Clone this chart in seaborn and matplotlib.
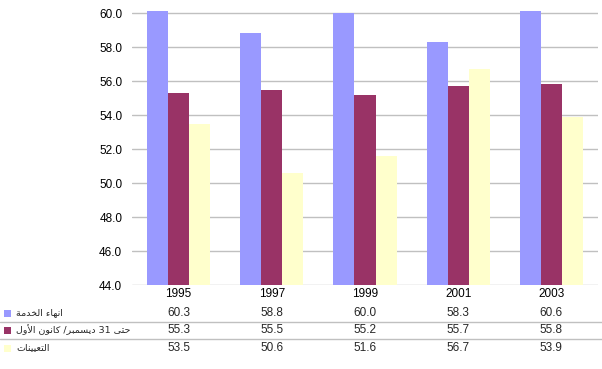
import re
import pandas as pd
import matplotlib
matplotlib.use("Agg")
import matplotlib.pyplot as plt
import matplotlib.transforms as mtransforms
from matplotlib.lines import Line2D
from matplotlib.patches import Rectangle
import seaborn as sns

# ---- data -------------------------------------------------------------
years = ["1995", "1997", "1999", "2001", "2003"]
series_names = ["انهاء الخدمة", "حتى 31 ديسمبر/ كانون الأول", "التعيينات"]
end_of_service = [60.3, 58.8, 60.0, 58.3, 60.6]
as_of_dec31 = [55.3, 55.5, 55.2, 55.7, 55.8]
appointments = [53.5, 50.6, 51.6, 56.7, 53.9]
series_colors = ["#9999ff", "#993366", "#ffffcc"]

# ---- minimal arabic shaping (matplotlib has no bidi/shaping) -----------
# isolated, final, initial, medial
ARABIC_FORMS = {
    "ء": ("\ufe80", None, None, None),
    "أ": ("\ufe83", "\ufe84", None, None),
    "ا": ("\ufe8d", "\ufe8e", None, None),
    "ب": ("\ufe8f", "\ufe90", "\ufe91", "\ufe92"),
    "ة": ("\ufe93", "\ufe94", None, None),
    "ت": ("\ufe95", "\ufe96", "\ufe97", "\ufe98"),
    "ح": ("\ufea1", "\ufea2", "\ufea3", "\ufea4"),
    "خ": ("\ufea5", "\ufea6", "\ufea7", "\ufea8"),
    "د": ("\ufea9", "\ufeaa", None, None),
    "ر": ("\ufead", "\ufeae", None, None),
    "س": ("\ufeb1", "\ufeb2", "\ufeb3", "\ufeb4"),
    "ع": ("\ufec9", "\ufeca", "\ufecb", "\ufecc"),
    "ك": ("\ufed9", "\ufeda", "\ufedb", "\ufedc"),
    "ل": ("\ufedd", "\ufede", "\ufedf", "\ufee0"),
    "م": ("\ufee1", "\ufee2", "\ufee3", "\ufee4"),
    "ن": ("\ufee5", "\ufee6", "\ufee7", "\ufee8"),
    "ه": ("\ufee9", "\ufeea", "\ufeeb", "\ufeec"),
    "و": ("\ufeed", "\ufeee", None, None),
    "ى": ("\ufeef", "\ufef0", None, None),
    "ي": ("\ufef1", "\ufef2", "\ufef3", "\ufef4"),
}
LAM_ALEF = {"ا": ("\ufefb", "\ufefc"), "أ": ("\ufef7", "\ufef8")}


def shape_arabic(text):
    out = []
    i = 0
    while i < len(text):
        c = text[i]
        prev = text[i - 1] if i > 0 else ""
        nxt = text[i + 1] if i + 1 < len(text) else ""
        joins_prev = prev in ARABIC_FORMS and ARABIC_FORMS[prev][2] is not None
        if c == "ل" and nxt in LAM_ALEF:
            out.append(LAM_ALEF[nxt][1 if joins_prev else 0])
            i += 2
            continue
        forms = ARABIC_FORMS.get(c)
        if forms is None:
            out.append(c)
        else:
            joins_next = forms[2] is not None and nxt in ARABIC_FORMS
            if joins_prev and joins_next:
                out.append(forms[3])
            elif joins_prev:
                out.append(forms[1])
            elif joins_next:
                out.append(forms[2])
            else:
                out.append(forms[0])
        i += 1
    visual = "".join(out)[::-1]
    # digits keep left-to-right order
    return re.sub(r"\d+", lambda m: m.group()[::-1], visual)


# ---- plot -------------------------------------------------------------
df = pd.DataFrame({
    "year": years * 3,
    "series": [s for s in series_names for _ in years],
    "value": end_of_service + as_of_dec31 + appointments,
})

sns.set_style("white")
plt.rcParams["font.family"] = ["Liberation Sans", "DejaVu Sans"]
FS = 8.5

fig = plt.figure(figsize=(6.02, 3.69), dpi=100)
ax = fig.add_axes([132 / 602, 1 - 285 / 369, 466 / 602, 274 / 369])

sns.barplot(
    data=df, x="year", y="value", hue="series", palette=series_colors,
    width=0.68, gap=0, saturation=1, legend=False, linewidth=0, ax=ax,
)

ax.set_ylim(44, 60.12)
ax.set_yticks([44, 46, 48, 50, 52, 54, 56, 58, 60])
ax.yaxis.set_major_formatter(lambda v, p: f"{v:.1f}")
ax.grid(axis="y", color="#c0c0c0", lw=1)
ax.set_axisbelow(True)
for sp in ax.spines.values():
    sp.set_visible(False)
ax.tick_params(axis="y", length=0, pad=7, labelsize=FS, labelcolor="black")
ax.tick_params(axis="x", length=0, pad=2, labelsize=FS, labelcolor="black")
ax.set_xlabel("")
ax.set_ylabel("")

# data table below the chart
trans = mtransforms.blended_transform_factory(ax.transData, fig.transFigure)
row_y = [313, 330, 348]
for name, vals, color, yp in zip(series_names,
                                 [end_of_service, as_of_dec31, appointments],
                                 series_colors, row_y):
    yf = 1 - yp / 369
    for xi, v in enumerate(vals):
        ax.text(xi, yf, f"{v:.1f}", transform=trans, ha="center", va="center",
                fontsize=FS, clip_on=False)
    fig.add_artist(Rectangle((4 / 602, yf - 3.5 / 369), 7 / 602, 7 / 369,
                             transform=fig.transFigure, facecolor=color,
                             edgecolor="none"))
    fig.text(16 / 602, yf, shape_arabic(name), ha="left", va="center",
             fontsize=6.8, family=["DejaVu Sans"])

for yp in [321.5, 338.5]:
    yf = 1 - yp / 369
    fig.add_artist(Line2D([0, 1], [yf, yf], transform=fig.transFigure,
                          color="#c0c0c0", lw=1))

fig.savefig("out.png", dpi=100)
